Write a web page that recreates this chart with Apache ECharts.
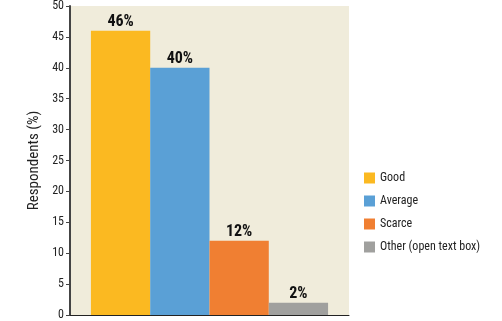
<!DOCTYPE html>
<html><head><meta charset="utf-8">
<script src="https://cdn.jsdelivr.net/npm/echarts@6/dist/echarts.min.js"></script>
<style>html,body{margin:0;padding:0;background:#fff}#c{width:502px;height:321px}</style>
</head><body><div id="c"></div>
<script>
var categories = [''];
var seriesNames = ['Good', 'Average', 'Scarce', 'Other (open text box)'];
var seriesValues = [46, 40, 12, 2];
var yTicks = [0, 5, 10, 15, 20, 25, 30, 35, 40, 45, 50];
var colors = ['#FBB921', '#5AA0D6', '#F07F32', '#A0A09E'];
var FONT = '"Roboto Condensed", "DejaVu Sans Condensed", sans-serif';

var chart = echarts.init(document.getElementById('c'));
var series = seriesNames.map(function (n, i) {
  return {
    name: n, type: 'bar', data: [seriesValues[i]],
    itemStyle: { color: colors[i] },
    barGap: '0%', barCategoryGap: '15%',
    label: { show: true, position: 'top', formatter: '{c}%', color: '#111', fontFamily: FONT, fontWeight: 'bold', fontSize: 16, distance: 1 }
  };
});
chart.setOption({
  animation: false,
  color: colors,
  grid: { left: 70, right: 153, top: 5, bottom: 6, show: true, backgroundColor: '#F0ECDB', borderWidth: 0 },
  legend: {
    orient: 'vertical', left: 359, top: 167, itemWidth: 11, itemHeight: 11, itemGap: 11,
    icon: 'rect', data: seriesNames,
    textStyle: { fontFamily: FONT, fontSize: 12, color: '#222' }
  },
  xAxis: { type: 'category', data: categories, axisLine: { lineStyle: { color: '#222', width: 1 } }, axisTick: { show: false }, axisLabel: { show: false } },
  yAxis: {
    type: 'value', min: yTicks[0], max: yTicks[yTicks.length - 1], interval: 5,
    name: 'Respondents (%)', nameLocation: 'middle', nameGap: 18,
    nameTextStyle: { fontFamily: FONT, fontSize: 15, color: '#222' },
    axisLine: { show: true, lineStyle: { color: '#444', width: 2 } },
    axisTick: { show: true, length: 4, lineStyle: { color: '#444' } },
    axisLabel: { fontFamily: FONT, fontSize: 12, color: '#222', margin: 6 },
    splitLine: { show: false }
  },
  series: series
});
</script></body></html>
